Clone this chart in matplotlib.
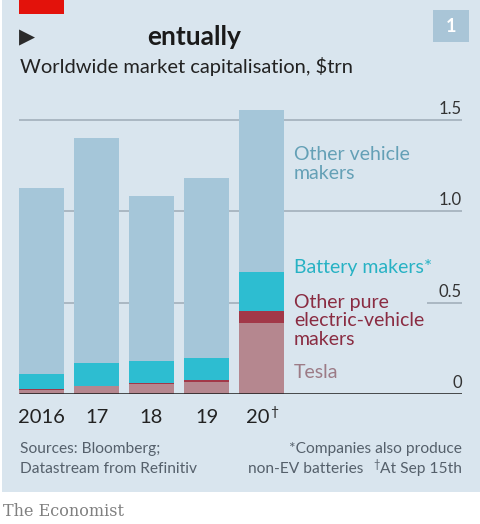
import matplotlib
matplotlib.use("Agg")
from matplotlib import pyplot as plt
from matplotlib.patches import Rectangle

plt.rcParams["font.family"] = ["Lato", "DejaVu Sans"]

# market capitalisation, $trn (stacked segments, bottom to top)
years = ["2016", "17", "18", "19", "20"]
tesla = [0.022, 0.042, 0.052, 0.068, 0.388]
other_ev = [0.003, 0.002, 0.008, 0.006, 0.066]
battery = [0.085, 0.126, 0.120, 0.123, 0.213]
other_vehicle = [1.016, 1.230, 0.900, 0.983, 0.883]

series = [
    ("Tesla", tesla, "#b5878f", "#9c7b86"),
    ("Other pure\nelectric-vehicle\nmakers", other_ev, "#a23848", "#8a2c42"),
    ("Battery makers*", battery, "#2dbdd1", "#27b2c4"),
    ("Other vehicle\nmakers", other_vehicle, "#a5c6d9", "#64a0b6"),
]
label_y = [0.115, 0.399, 0.689, 1.257]
yticks = [0, 0.5, 1.0, 1.5]
ytick_labels = ["0", "0.5", "1.0", "1.5"]

BG = "#d9e5ee"
W, H = 481, 524

fig = plt.figure(figsize=(W / 100, H / 100), dpi=100, facecolor="white")
fig.patches.append(Rectangle((2 / W, 1 - 492 / H), 479 / W, 492 / H,
                             transform=fig.transFigure, facecolor=BG,
                             edgecolor="none", zorder=-5))
fig.patches.append(Rectangle((19 / W, 1 - 14 / H), 45 / W, 14 / H,
                             transform=fig.transFigure, facecolor="#e3120b",
                             edgecolor="none", zorder=1))
# chart number box
fig.patches.append(Rectangle((433 / W, 1 - 42 / H), 36 / W, 32 / H,
                             transform=fig.transFigure, facecolor="#a9c5d7",
                             edgecolor="none", zorder=1))
fig.text(451 / W, 1 - 26 / H, "1", color="white", fontsize=13, fontweight="bold",
         ha="center", va="center")

ax = fig.add_axes([19 / W, (H - 394) / H, (462 - 19) / W, 1.6 * 183 / H])
ax.set_facecolor("none")
ax.set_xlim(-0.409, 7.645)
ax.set_ylim(0, 1.6)
for s in ax.spines.values():
    s.set_visible(False)
ax.set_xticks([])
ax.set_yticks([])

x = list(range(len(years)))
bottom = [0.0] * len(years)
for name, vals, col, tcol in series:
    ax.bar(x, vals, width=0.818, bottom=bottom, color=col, zorder=2)
    bottom = [b + v for b, v in zip(bottom, vals)]

# gridlines, the 0.5 one is broken by the labels
xl = ax.get_xlim()
for yv in yticks[1:]:
    if yv == 0.5:
        ax.hlines(yv, xl[0], 3.6, color="#a7b4bf", lw=1.3, zorder=1)
        ax.hlines(yv, 7.01, xl[1], color="#a7b4bf", lw=1.3, zorder=1)
    else:
        ax.hlines(yv, xl[0], xl[1], color="#a7b4bf", lw=1.3, zorder=1)
ax.hlines(0, xl[0], xl[1], color="#1a1a1a", lw=1.8, zorder=3)

for yv, lab in zip(yticks, ytick_labels):
    ax.text(xl[1], yv + 0.015, lab, ha="right", va="bottom", fontsize=12,
            color="#333333")

for (name, vals, col, tcol), ly in zip(series, label_y):
    ax.text(4.59, ly, name, color=tcol, fontsize=14, ha="left", va="center",
            linespacing=1.08)

for xi, lab in zip(x, years):
    # last label is nudged left to make room for the dagger
    xt = xi - 0.07 if xi == x[-1] else xi
    ax.text(xt, -0.08, lab, ha="center", va="top", fontsize=14.5, color="#222222")
ax.text(x[-1] + 0.16, -0.065, "\u2020", ha="left", va="top", fontsize=10,
        color="#222222")

# titles
fig.text(19 / W, 1 - 37 / H, "\u25b6", fontsize=15, color="#2b2b2b",
         ha="left", va="center")
fig.text(147 / W, 1 - 37 / H, "entually", fontsize=19, fontweight="bold",
         color="#1a1a1a", ha="left", va="center")
fig.text(20 / W, 1 - 67 / H, "Worldwide market capitalisation, $trn",
         fontsize=14.5, color="#222222", ha="left", va="center")

# footnotes
foot = "#55606b"
fig.text(20 / W, 1 - 449 / H, "Sources: Bloomberg;", fontsize=11.2, color=foot,
         ha="left", va="center")
fig.text(20 / W, 1 - 469 / H, "Datastream from Refinitiv", fontsize=11.2,
         color=foot, ha="left", va="center")
fig.text(462 / W, 1 - 449 / H, "*Companies also produce", fontsize=11.2,
         color=foot, ha="right", va="center")
fig.text(462 / W, 1 - 469 / H, "At Sep 15th", fontsize=11.2,
         color=foot, ha="right", va="center")
fig.text(380 / W, 1 - 464 / H, "\u2020", fontsize=8, color=foot,
         ha="right", va="center")
fig.text(363 / W, 1 - 469 / H, "non-EV batteries", fontsize=11.2,
         color=foot, ha="right", va="center")

fig.text(3 / W, 1 - 511 / H, "The Economist", family="DejaVu Serif",
         fontsize=11.5, color="#808080", ha="left", va="center")

fig.savefig("out.png", dpi=100, facecolor="white")
